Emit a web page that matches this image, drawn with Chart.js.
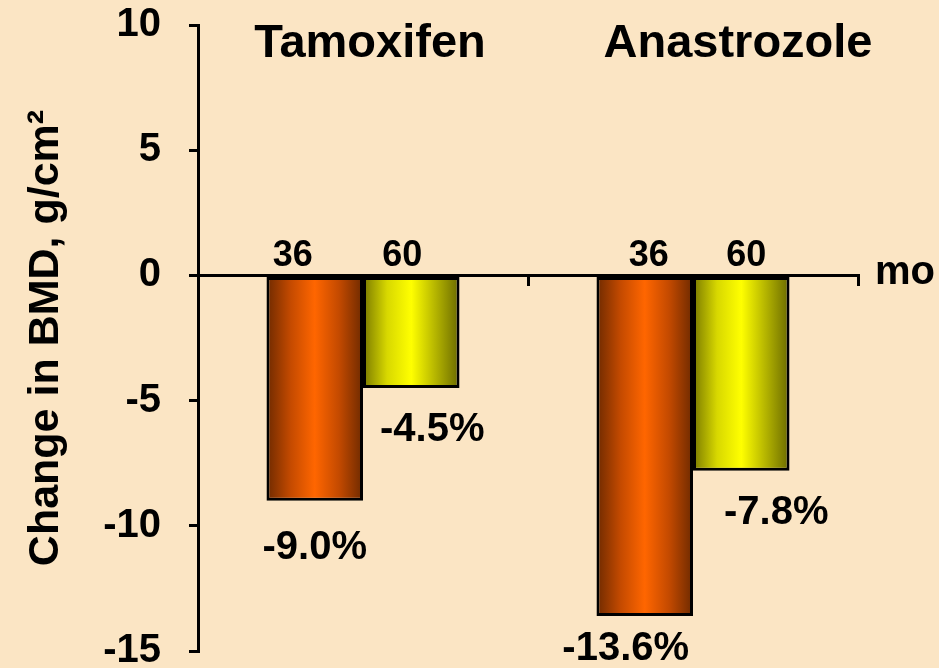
<!DOCTYPE html>
<html>
<head>
<meta charset="utf-8">
<script src="https://cdn.jsdelivr.net/npm/chart.js@4.4.0/dist/chart.umd.min.js"></script>
<style>
    html, body { margin: 0; padding: 0; background: #FBE5C4; }
    #wrap { width: 939px; height: 668px; }
</style>
</head>
<body>
<div id="wrap"><canvas id="bmdChart" width="939" height="668"></canvas></div>
<script>
// Data
const groups = ['Tamoxifen', 'Anastrozole'];
const months = ['36', '60'];
const change36 = [-9.0, -13.6];
const change60 = [-4.5, -7.8];
const valueLabels36 = ['-9.0%', '-13.6%'];
const valueLabels60 = ['-4.5%', '-7.8%'];
const yMin = -15;
const yMax = 10;
const yStep = 5;

const FONT = "'Liberation Sans', Arial, sans-serif";

// Horizontal "cylinder" shading for each bar
const barShades = [
    ['#6e2a00', '#c44a00', '#ff6600', '#c44a00', '#6e2a00'], // 36 mo
    ['#7a7a00', '#d8d800', '#ffff00', '#b5b500', '#6a6a00']  // 60 mo
];

const gradientBars = {
    id: 'gradientBars',
    beforeDatasetsDraw(chart) {
        const ctx = chart.ctx;
        chart.data.datasets.forEach((ds, i) => {
            const meta = chart.getDatasetMeta(i);
            meta.data.forEach(bar => {
                const half = bar.width / 2;
                const g = ctx.createLinearGradient(bar.x - half, 0, bar.x + half, 0);
                const stops = barShades[i];
                stops.forEach((c, k) => g.addColorStop(k / (stops.length - 1), c));
                bar.options = Object.assign({}, bar.options, { backgroundColor: g });
            });
        });
    }
};

// Month labels above the zero line, values below the bars, group titles and "mo"
const barText = {
    id: 'barText',
    afterDatasetsDraw(chart, args, opts) {
        const ctx = chart.ctx;
        const zeroY = chart.scales.y.getPixelForValue(0);
        ctx.save();
        ctx.fillStyle = '#000';
        ctx.textAlign = 'center';

        chart.data.datasets.forEach((ds, i) => {
            const meta = chart.getDatasetMeta(i);
            meta.data.forEach((bar, j) => {
                ctx.font = 'bold 36px ' + FONT;
                ctx.textBaseline = 'alphabetic';
                ctx.fillText(months[i], bar.x + opts.monthDx[i][j], zeroY - 9);

                const off = opts.valueOffsets[i][j];
                ctx.font = 'bold 40px ' + FONT;
                ctx.textBaseline = 'middle';
                ctx.fillText(ds.valueLabels[j], bar.x + off.dx, bar.y + off.dy);
            });
        });

        // group titles at the top
        ctx.font = 'bold 47px ' + FONT;
        ctx.textBaseline = 'alphabetic';
        groups.forEach((name, j) => {
            const x = chart.scales.x.getPixelForValue(j) + opts.titleDx[j];
            ctx.fillText(name, x, opts.titleY);
        });

        // unit at the right end of the x axis
        ctx.font = 'bold 40px ' + FONT;
        ctx.textAlign = 'left';
        ctx.textBaseline = 'middle';
        ctx.fillText('mo', chart.chartArea.right + 17, zeroY - 2);
        ctx.restore();
    }
};

new Chart(document.getElementById('bmdChart'), {
    type: 'bar',
    data: {
        labels: groups,
        datasets: [
            {
                label: '36 mo',
                data: change36,
                valueLabels: valueLabels36,
                borderColor: '#000',
                borderWidth: 3,
                borderSkipped: false
            },
            {
                label: '60 mo',
                data: change60,
                valueLabels: valueLabels60,
                borderColor: '#000',
                borderWidth: 3,
                borderSkipped: false
            }
        ]
    },
    options: {
        responsive: false,
        animation: false,
        datasets: {
            bar: { categoryPercentage: 0.585, barPercentage: 1.0 }
        },
        layout: { padding: { top: 25, right: 81, bottom: 17, left: 0 } },
        plugins: {
            legend: { display: false },
            tooltip: { enabled: false },
            barText: {
                monthDx: [[-22, 4], [-9, 5]],
                valueOffsets: [
                    [{ dx: 0, dy: 47 }, { dx: -19, dy: 33 }],
                    [{ dx: 21, dy: 42 }, { dx: 35, dy: 42 }]
                ],
                titleDx: [7, 45],
                titleY: 57
            }
        },
        scales: {
            x: {
                position: { y: 0 },
                offset: true,
                ticks: { display: false },
                grid: {
                    offset: true,
                    drawOnChartArea: false,
                    drawTicks: true,
                    tickLength: 9,
                    lineWidth: 3,
                    color: '#000'
                },
                border: { display: true, width: 3, color: '#000' },
                afterFit(scale) { scale.height = 0; }
            },
            y: {
                min: yMin,
                max: yMax,
                ticks: {
                    stepSize: yStep,
                    color: '#000',
                    padding: 28,
                    font: { family: FONT, size: 40, weight: 'bold' }
                },
                grid: {
                    drawOnChartArea: false,
                    drawTicks: true,
                    tickLength: 9,
                    lineWidth: 3,
                    color: '#000'
                },
                border: { display: true, width: 3, color: '#000' },
                title: {
                    display: true,
                    text: 'Change in BMD, g/cm\u00B2',
                    color: '#000',
                    padding: { top: 20, bottom: 0 },
                    font: { family: FONT, size: 43, weight: 'bold' }
                },
                afterFit(scale) {
                    scale.width = 198;
                    scale.paddingTop = 0;
                    scale.paddingBottom = 0;
                }
            }
        }
    },
    plugins: [gradientBars, barText]
});
</script>
</body>
</html>
